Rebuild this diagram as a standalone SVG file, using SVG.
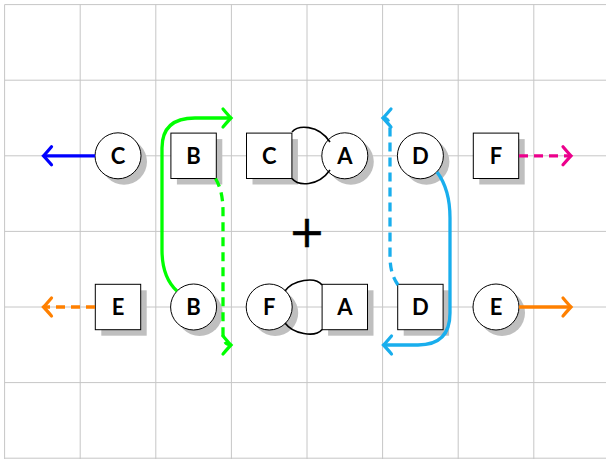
<svg xmlns="http://www.w3.org/2000/svg" width="606" height="459" viewBox="0 0 606 459">
<style>
.grid line{stroke:#c6c6c6;stroke-width:1}
.sh{fill:#bfbfbf}
.nd{fill:#fff;stroke:#000;stroke-width:1}
.lb{font-family:Lato,"Open Sans","DejaVu Sans",sans-serif;font-weight:bold;font-size:22px;text-anchor:middle;fill:#000}
.c{fill:none;stroke-width:3.3}
.d{stroke-dasharray:9 6}
.bk{fill:none;stroke:#000;stroke-width:1.6}
</style>
<defs>
<marker id="ab" markerUnits="userSpaceOnUse" orient="auto" refX="0" refY="0" markerWidth="24" markerHeight="24" viewBox="-12 -12 24 24" overflow="visible"><path d="M-8,-9 Q-2.5,-2.5 0,0 Q-2.5,2.5 -8,9" fill="none" stroke="#0000ff" stroke-width="3.2" stroke-linecap="round"/></marker>
<marker id="ag" markerUnits="userSpaceOnUse" orient="auto" refX="0" refY="0" markerWidth="24" markerHeight="24" viewBox="-12 -12 24 24" overflow="visible"><path d="M-8,-9 Q-2.5,-2.5 0,0 Q-2.5,2.5 -8,9" fill="none" stroke="#00ff00" stroke-width="3.2" stroke-linecap="round"/></marker>
<marker id="ac" markerUnits="userSpaceOnUse" orient="auto" refX="0" refY="0" markerWidth="24" markerHeight="24" viewBox="-12 -12 24 24" overflow="visible"><path d="M-8,-9 Q-2.5,-2.5 0,0 Q-2.5,2.5 -8,9" fill="none" stroke="#19aeed" stroke-width="3.2" stroke-linecap="round"/></marker>
<marker id="am" markerUnits="userSpaceOnUse" orient="auto" refX="0" refY="0" markerWidth="24" markerHeight="24" viewBox="-12 -12 24 24" overflow="visible"><path d="M-8,-9 Q-2.5,-2.5 0,0 Q-2.5,2.5 -8,9" fill="none" stroke="#ec008c" stroke-width="3.2" stroke-linecap="round"/></marker>
<marker id="ao" markerUnits="userSpaceOnUse" orient="auto" refX="0" refY="0" markerWidth="24" markerHeight="24" viewBox="-12 -12 24 24" overflow="visible"><path d="M-8,-9 Q-2.5,-2.5 0,0 Q-2.5,2.5 -8,9" fill="none" stroke="#ff8000" stroke-width="3.2" stroke-linecap="round"/></marker>
</defs>
<rect width="606" height="459" fill="#fff"/>
<g class="grid">
<line x1="4.6" y1="4.6" x2="606" y2="4.6"/>
<line x1="4.6" y1="80.2" x2="606" y2="80.2"/>
<line x1="4.6" y1="155.8" x2="606" y2="155.8"/>
<line x1="4.6" y1="231.4" x2="606" y2="231.4"/>
<line x1="4.6" y1="307" x2="606" y2="307"/>
<line x1="4.6" y1="382.6" x2="606" y2="382.6"/>
<line x1="4.6" y1="458.2" x2="606" y2="458.2"/>
<line x1="4.6" y1="4.6" x2="4.6" y2="459"/>
<line x1="80.2" y1="4.6" x2="80.2" y2="459"/>
<line x1="155.8" y1="4.6" x2="155.8" y2="459"/>
<line x1="231.4" y1="4.6" x2="231.4" y2="459"/>
<line x1="307" y1="4.6" x2="307" y2="459"/>
<line x1="382.6" y1="4.6" x2="382.6" y2="459"/>
<line x1="458.2" y1="4.6" x2="458.2" y2="459"/>
<line x1="533.8" y1="4.6" x2="533.8" y2="459"/>
</g>
<g id="top-C-circle"><circle class="sh" cx="124" cy="161.8" r="23"/><circle class="nd" cx="118" cy="155.8" r="23"/><text class="lb" x="118" y="163.5">C</text></g>
<g id="top-B-square"><rect class="sh" x="176.9" y="139.1" width="45.4" height="45.4"/><rect class="nd" x="170.9" y="133.1" width="45.4" height="45.4"/><text class="lb" x="193.6" y="163.5">B</text></g>
<g id="top-C-square"><rect class="sh" x="252.5" y="139.1" width="45.4" height="45.4"/><rect class="nd" x="246.5" y="133.1" width="45.4" height="45.4"/><text class="lb" x="269.2" y="163.5">C</text></g>
<g id="top-A-circle"><circle class="sh" cx="350.8" cy="161.8" r="23"/><circle class="nd" cx="344.8" cy="155.8" r="23"/><text class="lb" x="344.8" y="163.5">A</text></g>
<g id="top-D-circle"><circle class="sh" cx="426.4" cy="161.8" r="23"/><circle class="nd" cx="420.4" cy="155.8" r="23"/><text class="lb" x="420.4" y="163.5">D</text></g>
<g id="top-F-square"><rect class="sh" x="479.3" y="139.1" width="45.4" height="45.4"/><rect class="nd" x="473.3" y="133.1" width="45.4" height="45.4"/><text class="lb" x="496" y="163.5">F</text></g>
<g id="bot-E-square"><rect class="sh" x="101.3" y="290.3" width="45.4" height="45.4"/><rect class="nd" x="95.3" y="284.3" width="45.4" height="45.4"/><text class="lb" x="118" y="314.7">E</text></g>
<g id="bot-B-circle"><circle class="sh" cx="199.6" cy="313" r="23"/><circle class="nd" cx="193.6" cy="307" r="23"/><text class="lb" x="193.6" y="314.7">B</text></g>
<g id="bot-F-circle"><circle class="sh" cx="275.2" cy="313" r="23"/><circle class="nd" cx="269.2" cy="307" r="23"/><text class="lb" x="269.2" y="314.7">F</text></g>
<g id="bot-A-square"><rect class="sh" x="328.1" y="290.3" width="45.4" height="45.4"/><rect class="nd" x="322.1" y="284.3" width="45.4" height="45.4"/><text class="lb" x="344.8" y="314.7">A</text></g>
<g id="bot-D-square"><rect class="sh" x="403.7" y="290.3" width="45.4" height="45.4"/><rect class="nd" x="397.7" y="284.3" width="45.4" height="45.4"/><text class="lb" x="420.4" y="314.7">D</text></g>
<g id="bot-E-circle"><circle class="sh" cx="502" cy="313" r="23"/><circle class="nd" cx="496" cy="307" r="23"/><text class="lb" x="496" y="314.7">E</text></g>
<g id="plus"><text x="307" y="246.5" font-family="'DejaVu Sans',sans-serif" font-size="44" text-anchor="middle" fill="#000" stroke="#000" stroke-width="0.4">+</text></g>
<g id="connectors">
<path class="c" stroke="#0000ff" d="M95,155.8 L43.5,155.8" marker-end="url(#ab)"/>
<path class="c" stroke="#00ff00" d="M177,291 C166,281 162,268 162,250 L162,148 Q162,118 195,118 L231,118" marker-end="url(#ag)"/>
<path class="c d" stroke="#00ff00" d="M215.5,178.5 C221,188 223,198 223,212 L223,333 Q223,345 231,345" marker-end="url(#ag)"/>
<path class="c d" stroke="#19aeed" d="M398,285 C392,276 390,268 390,255 L390,130 Q390,118 383,118" marker-end="url(#ac)"/>
<path class="c" stroke="#19aeed" d="M437,172 C446,184 450,200 450,218 L450,313 Q450,345 418,345 L383.5,345" marker-end="url(#ac)"/>
<path class="c d" stroke="#ec008c" d="M519,155.8 L571,155.8" marker-end="url(#am)"/>
<path class="c d" stroke="#ff8000" d="M95,307 L43.5,307" marker-end="url(#ao)"/>
<path class="c" stroke="#ff8000" d="M519,307 L571,307" marker-end="url(#ao)"/>
<path class="bk" d="M292,132 C298,125 318,124 330,142"/>
<path class="bk" d="M292,178.5 C298,186 318,187 330,170"/>
<path class="bk" d="M285,291 C293,280 315,276 322.1,285"/>
<path class="bk" d="M285,323 C293,334 315,338 322.1,329.5"/>
</g>
</svg>
